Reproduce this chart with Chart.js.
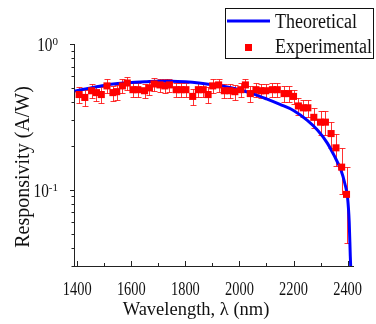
<!DOCTYPE html>
<html>
<head>
<meta charset="utf-8">
<script src="https://cdn.jsdelivr.net/npm/chart.js@4/dist/chart.umd.min.js"></script>
<style>
  html, body { margin: 0; padding: 0; background: #fff; }
  canvas { display: block; }
</style>
</head>
<body>
<canvas id="responsivityChart" width="376" height="324"></canvas>
<script>
// Theoretical curve
const theoryWavelength = [1390, 1450, 1500, 1550, 1600, 1650, 1700, 1750, 1800, 1850, 1900, 1950, 2000, 2050, 2100, 2150, 2200, 2250, 2290, 2325, 2350, 2375, 2390, 2400, 2406, 2410, 2413];
const theoryResponse = [0.475, 0.50, 0.52, 0.535, 0.545, 0.55, 0.555, 0.555, 0.55, 0.54, 0.525, 0.51, 0.485, 0.455, 0.42, 0.385, 0.35, 0.30, 0.255, 0.209, 0.172, 0.137, 0.11, 0.088, 0.06, 0.035, 0.025];

// Experimental points with error bars
const expWavelength = [1407, 1428, 1453, 1471, 1489, 1510, 1532, 1546, 1567, 1585, 1606, 1624, 1649, 1667, 1684, 1706, 1724, 1741, 1766, 1784, 1802, 1827, 1848, 1866, 1884, 1901, 1923, 1944, 1965, 1983, 2005, 2022, 2040, 2061, 2079, 2097, 2122, 2140, 2165, 2182, 2200, 2218, 2236, 2253, 2275, 2300, 2318, 2339, 2357, 2378, 2396];
const expResponse = [0.45, 0.43, 0.478, 0.464, 0.45, 0.516, 0.464, 0.471, 0.516, 0.54, 0.486, 0.486, 0.478, 0.50, 0.532, 0.524, 0.516, 0.524, 0.486, 0.486, 0.486, 0.437, 0.486, 0.486, 0.45, 0.516, 0.524, 0.478, 0.478, 0.471, 0.486, 0.524, 0.457, 0.486, 0.478, 0.478, 0.486, 0.486, 0.457, 0.457, 0.437, 0.376, 0.365, 0.365, 0.314, 0.291, 0.291, 0.243, 0.194, 0.143, 0.093];
const expError = [0.055, 0.055, 0.055, 0.055, 0.055, 0.055, 0.055, 0.055, 0.055, 0.055, 0.055, 0.055, 0.055, 0.055, 0.055, 0.055, 0.055, 0.055, 0.055, 0.055, 0.055, 0.055, 0.055, 0.055, 0.055, 0.055, 0.055, 0.055, 0.055, 0.055, 0.055, 0.055, 0.055, 0.055, 0.055, 0.055, 0.055, 0.055, 0.055, 0.055, 0.05, 0.05, 0.05, 0.05, 0.05, 0.055, 0.055, 0.05, 0.048, 0.05, 0.05];

// Tick labels
const xTickLabels = [1400, 1600, 1800, 2000, 2200, 2400];
const xMinorTicks = [1500, 1700, 1900, 2100, 2300];
const yTickValues = [1, 0.1];
const yTickExponents = ['0', '-1'];
const yMinorTicks = [0.9, 0.8, 0.7, 0.6, 0.5, 0.4, 0.3, 0.2, 0.09, 0.08, 0.07, 0.06, 0.05, 0.04, 0.03];

const serif = '"Liberation Serif", "Times New Roman", serif';

// error bars, drawn under the markers
const errorBarPlugin = {
    id: 'errorBars',
    beforeDatasetsDraw(chart) {
        const { ctx, chartArea, scales: { x, y } } = chart;
        ctx.save();
        ctx.beginPath();
        ctx.rect(chartArea.left, chartArea.top, chartArea.right - chartArea.left, chartArea.bottom - chartArea.top);
        ctx.clip();
        ctx.strokeStyle = 'rgba(255, 0, 0, 0.8)';
        ctx.lineWidth = 1;
        expWavelength.forEach((wl, i) => {
            const px = Math.round(x.getPixelForValue(wl)) + 0.5;
            const top = Math.round(y.getPixelForValue(expResponse[i] + expError[i])) + 0.5;
            const bottom = Math.round(y.getPixelForValue(expResponse[i] - expError[i])) + 0.5;
            ctx.beginPath();
            ctx.moveTo(px, top);
            ctx.lineTo(px, bottom);
            ctx.moveTo(px - 3, top);
            ctx.lineTo(px + 3, top);
            ctx.moveTo(px - 3, bottom);
            ctx.lineTo(px + 3, bottom);
            ctx.stroke();
        });
        ctx.restore();
    }
};

// ticks, tick labels, axis titles and legend
const decorPlugin = {
    id: 'decor',
    afterDraw(chart) {
        const { ctx, chartArea, scales: { x, y } } = chart;
        ctx.save();
        ctx.strokeStyle = '#222';
        ctx.lineWidth = 1;

        // x ticks point inward
        ctx.beginPath();
        xTickLabels.forEach(v => {
            const px = Math.round(x.getPixelForValue(v)) + 0.5;
            ctx.moveTo(px, chartArea.bottom);
            ctx.lineTo(px, chartArea.bottom - 5);
        });
        xMinorTicks.forEach(v => {
            const px = Math.round(x.getPixelForValue(v)) + 0.5;
            ctx.moveTo(px, chartArea.bottom);
            ctx.lineTo(px, chartArea.bottom - 3);
        });
        // y ticks point outward
        yTickValues.forEach(v => {
            const py = Math.round(y.getPixelForValue(v)) + 0.5;
            ctx.moveTo(chartArea.left, py);
            ctx.lineTo(chartArea.left - 4, py);
        });
        yMinorTicks.forEach(v => {
            const py = Math.round(y.getPixelForValue(v)) + 0.5;
            ctx.moveTo(chartArea.left, py);
            ctx.lineTo(chartArea.left - 2.5, py);
        });
        ctx.stroke();

        ctx.fillStyle = '#111';
        ctx.textBaseline = 'alphabetic';

        // x tick labels, slightly condensed like the original
        ctx.font = '18px ' + serif;
        ctx.textAlign = 'center';
        xTickLabels.forEach(v => {
            const px = x.getPixelForValue(v);
            ctx.save();
            ctx.translate(px, 295);
            ctx.scale(0.8, 1);
            ctx.fillText(String(v), 0, 0);
            ctx.restore();
        });

        // y tick labels as powers of ten
        yTickValues.forEach((v, i) => {
            const py = y.getPixelForValue(v);
            ctx.textAlign = 'right';
            ctx.font = '11px ' + serif;
            const supW = ctx.measureText(yTickExponents[i]).width;
            ctx.fillText(yTickExponents[i], 58, py + 1);
            ctx.font = '18px ' + serif;
            ctx.save();
            ctx.translate(58 - supW, py + 7);
            ctx.scale(0.85, 1);
            ctx.fillText('10', 0, 0);
            ctx.restore();
        });

        // axis titles
        ctx.textAlign = 'center';
        ctx.font = '18.5px ' + serif;
        ctx.fillText('Wavelength, \u03bb (nm)', 196, 315);
        ctx.save();
        ctx.translate(29, 167);
        ctx.rotate(-Math.PI / 2);
        ctx.font = '20px ' + serif;
        ctx.fillText('Responsivity (A/W)', 0, 0);
        ctx.restore();

        // legend box
        ctx.strokeStyle = '#111';
        ctx.strokeRect(225.5, 8.5, 148, 50);
        ctx.strokeStyle = '#0000ff';
        ctx.lineWidth = 3;
        ctx.beginPath();
        ctx.moveTo(227, 21);
        ctx.lineTo(270, 21);
        ctx.stroke();
        ctx.fillStyle = '#ff0000';
        ctx.fillRect(245, 44, 7, 7);
        ctx.fillStyle = '#111';
        ctx.textAlign = 'left';
        ctx.font = '20px ' + serif;
        [['Theoretical', 27.5], ['Experimental', 53]].forEach(([label, base]) => {
            ctx.save();
            ctx.translate(275, base);
            ctx.scale(0.9, 1);
            ctx.fillText(label, 0, 0);
            ctx.restore();
        });
        ctx.restore();
    }
};

const canvas = document.getElementById('responsivityChart');

new Chart(canvas, {
    type: 'line',
    data: {
        datasets: [
            {
                label: 'Experimental',
                data: expWavelength.map((wl, i) => ({ x: wl, y: expResponse[i] })),
                showLine: false,
                pointStyle: 'rect',
                pointRadius: 5,
                pointBackgroundColor: '#ff0000',
                pointBorderColor: '#ff0000',
                pointBorderWidth: 0,
                order: 0
            },
            {
                label: 'Theoretical',
                data: theoryWavelength.map((wl, i) => ({ x: wl, y: theoryResponse[i] })),
                borderColor: '#0000ff',
                borderWidth: 3,
                pointRadius: 0,
                tension: 0.4,
                cubicInterpolationMode: 'monotone',
                fill: false,
                order: 1
            }
        ]
    },
    options: {
        responsive: false,
        animation: false,
        layout: {
            padding: { left: 66, top: 44, right: 23, bottom: 50 }
        },
        plugins: {
            legend: { display: false },
            tooltip: { enabled: false }
        },
        scales: {
            x: {
                type: 'linear',
                min: 1388,
                max: 2420,
                ticks: { display: false },
                grid: { display: false },
                border: { display: true, color: '#222', width: 1 }
            },
            y: {
                type: 'logarithmic',
                min: 0.03,
                max: 1,
                ticks: { display: false },
                grid: { display: false },
                border: { display: true, color: '#222', width: 1 }
            }
        }
    },
    plugins: [errorBarPlugin, decorPlugin]
});
</script>
</body>
</html>
